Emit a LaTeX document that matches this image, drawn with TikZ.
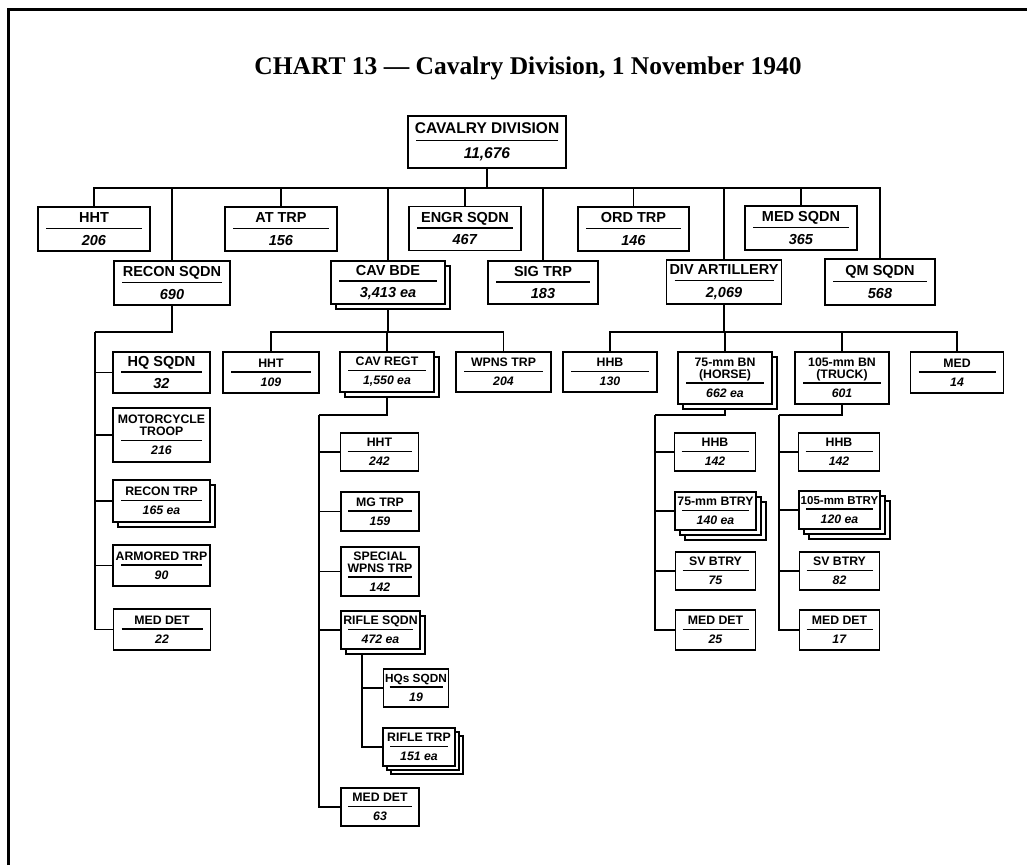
\documentclass[tikz,border=0pt]{standalone}
\usepackage{fontspec}
\setmainfont{Liberation Serif}
\setsansfont{Liberation Sans}
\usetikzlibrary{shadows,backgrounds}

% rule between unit name and strength
\newcommand{\divline}[1]{\\[-.65em]\rule{#1pt}{1.6pt}\\}

\begin{document}
\begin{tikzpicture}[
		x=1pt, y=-1pt,
		unitbox/.style 2 args={
				draw,
				line width=1.9pt,
				fill=white,
				inner sep=0pt,
				align=center,
				minimum width=#1pt,
				minimum height=#2pt,
			},
		stackcopy/.style={
				copy shadow={shadow xshift=#1, shadow yshift=-#1,
						draw=black, fill=white, line width=1.9pt},
			},
		chief/.style={font=\sffamily\bfseries\fontsize{15.5}{17.5}\selectfont},
		big/.style={font=\sffamily\bfseries\fontsize{14.5}{16}\selectfont},
		small/.style={font=\sffamily\bfseries\fontsize{12.3}{13.5}\selectfont},
		heading/.style={font=\rmfamily\bfseries\fontsize{25.5}{30}\selectfont},
		link/.style={line width=1.9pt},
	]
	\useasboundingbox (0,0) rectangle (1027,865);
	\draw[line width=3pt] (8,865) -- (8,9) -- (1027,9);

	\node[heading] (title) at (528,68) {CHART 13 — Cavalry Division, 1 November 1940};

	\node[unitbox={158}{52}, chief] (div) at (487,142) {CAVALRY DIVISION\divline{142}\textit{11,676}};

	% first row
	\node[unitbox={112}{44}, big] (hht) at (94,229) {HHT\divline{96}\textit{206}};
	\node[unitbox={112}{44}, big] (attrp) at (281,229) {AT TRP\divline{96}\textit{156}};
	\node[unitbox={112}{44}, big] (engr) at (465,228.5) {ENGR SQDN\divline{96}\textit{467}};
	\node[unitbox={111}{44}, big] (ord) at (633.5,229) {ORD TRP\divline{95}\textit{146}};
	\node[unitbox={112}{44}, big] (medsq) at (801,228) {MED SQDN\divline{96}\textit{365}};

	% second row
	\node[unitbox={116}{44}, big] (recon) at (172,283) {RECON SQDN\divline{100}\textit{690}};
	\node[unitbox={114}{43}, big, stackcopy=5pt] (bde) at (388,282.5) {CAV BDE\divline{98}\textit{3,413 ea}};
	\node[unitbox={110}{43}, big] (sig) at (543,282.5) {SIG TRP\divline{94}\textit{183}};
	\node[unitbox={115}{44}, big] (arty) at (724,282) {DIV ARTILLERY\divline{99}\textit{2,069}};
	\node[unitbox={110}{46}, big] (qm) at (880,282) {QM SQDN\divline{94}\textit{568}};

	% brigade and artillery
	\node[unitbox={96}{41}, small] (bhht) at (271,372.5) {HHT\divline{80}\textit{109}};
	\node[unitbox={94}{40}, small, stackcopy=5pt] (regt) at (387,372) {CAV REGT\divline{78}\textit{1,550 ea}};
	\node[unitbox={95}{40}, small] (wpns) at (503.5,372) {WPNS TRP\divline{79}\textit{204}};
	\node[unitbox={94}{40}, small] (hhb) at (610,372) {HHB\divline{78}\textit{130}};
	\node[unitbox={94}{52}, small, stackcopy=5pt] (bn75) at (725,378) {75-mm BN\\[-.15em](HORSE)\divline{78}\textit{662 ea}};
	\node[unitbox={94}{52}, small] (bn105) at (842,378) {105-mm BN\\[-.15em](TRUCK)\divline{78}\textit{601}};
	\node[unitbox={93}{41}, small] (amed) at (957,372.5) {MED\divline{77}\textit{14}};

	% recon squadron
	\node[unitbox={97}{41}, big] (hq) at (161.5,372.5) {HQ SQDN\divline{81}\textit{32}};
	\node[unitbox={97}{54}, small] (moto) at (161.5,435) {MOTORCYCLE\\[-.1em]TROOP\divline{81}\textit{216}};
	\node[unitbox={97}{42}, small, stackcopy=5pt] (rtrp) at (161.5,501) {RECON TRP\divline{81}\textit{165 ea}};
	\node[unitbox={97}{41}, small] (armd) at (161.5,565.5) {ARMORED TRP\divline{81}\textit{90}};
	\node[unitbox={97}{41}, small] (rmed) at (162,629.5) {MED DET\divline{81}\textit{22}};

	% cavalry regiment
	\node[unitbox={78}{38}, small] (rhht) at (379.5,452) {HHT\divline{64}\textit{242}};
	\node[unitbox={78}{39}, small] (mg) at (380,511.5) {MG TRP\divline{64}\textit{159}};
	\node[unitbox={78}{49}, small] (spw) at (380,571.5) {SPECIAL\\[-.1em]WPNS TRP\divline{64}\textit{142}};
	\node[unitbox={79}{38}, small, stackcopy=5pt] (rsq) at (380.5,630) {RIFLE SQDN\divline{65}\textit{472 ea}};
	\node[unitbox={65}{38}, small] (hqs) at (416,688) {{\fontsize{11.8}{13.5}\selectfont HQs SQDN}\divline{53}\textit{19}};
	\node[unitbox={72}{38}, small, stackcopy=8pt, stackcopy=4pt] (rtp) at (419,747) {RIFLE TRP\divline{58}\textit{151 ea}};
	\node[unitbox={78}{38}, small] (gmed) at (380,807) {MED DET\divline{64}\textit{63}};

	% battalions
	\node[unitbox={81}{38}, small] (h75) at (715,452) {HHB\divline{67}\textit{142}};
	\node[unitbox={81}{38}, small, stackcopy=10pt, stackcopy=5pt] (b75) at (715.5,511) {75-mm BTRY\divline{67}\textit{140 ea}};
	\node[unitbox={80}{38}, small] (s75) at (715.5,571) {SV BTRY\divline{66}\textit{75}};
	\node[unitbox={80}{40}, small] (m75) at (715.5,630) {MED DET\divline{66}\textit{25}};
	\node[unitbox={81}{38}, small] (h105) at (839,452) {HHB\divline{67}\textit{142}};
	\node[unitbox={81}{38}, small, stackcopy=10pt, stackcopy=5pt] (b105) at (839.5,510) {{\fontsize{11.5}{13.5}\selectfont 105-mm BTRY}\divline{67}\textit{120 ea}};
	\node[unitbox={80}{38}, small] (s105) at (839.5,571) {SV BTRY\divline{66}\textit{82}};
	\node[unitbox={80}{40}, small] (m105) at (839.5,630) {MED DET\divline{66}\textit{17}};

	\begin{scope}[on background layer]
		\coordinate (bus1) at (487,188);
		\draw[link] (div.south) -- (bus1);
		\foreach \n in {hht,attrp,engr,ord,medsq,recon,bde,sig,arty,qm}
			\draw[link] (bus1) -| (\n.north);

		\coordinate (bus2) at (388,332);
		\draw[link] (bde.south) -- (bus2);
		\foreach \n in {bhht,regt,wpns}
			\draw[link] (bus2) -| (\n.north);

		\coordinate (bus3) at (724,332);
		\draw[link] (arty.south) -- (bus3);
		\foreach \n in {hhb,bn75,bn105,amed}
			\draw[link] (bus3) -| (\n.north);

		\coordinate (spine1) at (95,332);
		\draw[link] (recon.south) |- (spine1);
		\foreach \n in {hq,moto,rtrp,armd,rmed}
			\draw[link] (spine1) |- (\n.west);

		\coordinate (spine2) at (319,415);
		\draw[link] (regt.south) |- (spine2);
		\foreach \n in {rhht,mg,spw,rsq,gmed}
			\draw[link] (spine2) |- (\n.west);

		\coordinate (spine3) at (362,654);
		\foreach \n in {hqs,rtp}
			\draw[link] (rsq.south -| spine3) |- (\n.west);

		\coordinate (spine4) at (655,415);
		\draw[link] (bn75.south) |- (spine4);
		\foreach \n in {h75,b75,s75,m75}
			\draw[link] (spine4) |- (\n.west);

		\coordinate (spine5) at (779,415);
		\draw[link] (bn105.south) |- (spine5);
		\foreach \n in {h105,b105,s105,m105}
			\draw[link] (spine5) |- (\n.west);
	\end{scope}
\end{tikzpicture}
\end{document}
